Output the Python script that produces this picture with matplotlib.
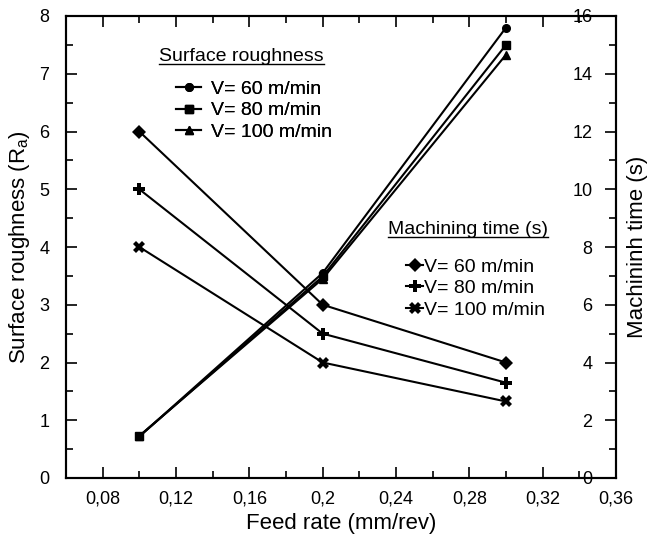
import matplotlib
matplotlib.use("Agg")
import matplotlib.pyplot as plt
from matplotlib.lines import Line2D
from matplotlib.ticker import MultipleLocator, FixedLocator
from matplotlib.transforms import IdentityTransform

plt.rcParams["font.family"] = ["Liberation Sans", "DejaVu Sans"]

# Data
feed = [0.1, 0.2, 0.3]
speeds = ["V= 60 m/min", "V= 80 m/min", "V= 100 m/min"]

# surface roughness Ra (left axis)
ra_60 = [0.72, 3.55, 7.80]
ra_80 = [0.72, 3.49, 7.50]
ra_100 = [0.73, 3.45, 7.33]

# machining time in s (right axis)
t_60 = [12.0, 6.0, 4.0]
t_80 = [10.0, 5.0, 3.3]
t_100 = [8.0, 4.0, 2.65]

xticks = [0.08, 0.12, 0.16, 0.2, 0.24, 0.28, 0.32, 0.36]
xticklabels = ["0,08", "0,12", "0,16", "0,2", "0,24", "0,28", "0,32", "0,36"]

fig = plt.figure(figsize=(6.55, 5.4), dpi=100)
ax = fig.add_axes([66/655, 62/540, 550/655, 462/540])
ax2 = ax.twinx()

lw = 1.5
ra_marks = ["o", "s", "^"]
t_marks = ["D", "P", "X"]
t_sizes = [7, 8.5, 8.5]

h1 = []
for y, m in zip([ra_60, ra_80, ra_100], ra_marks):
    line, = ax.plot(feed, y, color="black", lw=lw, marker=m, markersize=5.5)
    h1.append(line)

h2 = []
for y, m, ms in zip([t_60, t_80, t_100], t_marks, t_sizes):
    line, = ax2.plot(feed, y, color="black", lw=lw, marker=m, markersize=ms,
                     markeredgewidth=0)
    h2.append(line)

ax.set_xlim(0.06, 0.36)
ax.set_ylim(0, 8)
ax2.set_ylim(0, 16)

ax.xaxis.set_major_locator(FixedLocator(xticks))
ax.set_xticklabels(xticklabels)
ax.xaxis.set_minor_locator(MultipleLocator(0.02))
ax.yaxis.set_major_locator(MultipleLocator(1))
ax.yaxis.set_minor_locator(MultipleLocator(0.5))
ax2.yaxis.set_major_locator(MultipleLocator(2))
ax2.yaxis.set_minor_locator(MultipleLocator(1))

ax.tick_params(axis="x", which="both", direction="in", top=True, labelsize=13, pad=9)
ax.tick_params(axis="y", which="both", direction="in", labelsize=13, pad=12)
ax.tick_params(which="major", length=8, width=1.2)
ax.tick_params(which="minor", length=5, width=1.2)
ax2.tick_params(axis="y", which="both", direction="in", labelsize=13, pad=-17, width=1.2)
ax2.tick_params(axis="y", which="major", length=8)
ax2.tick_params(axis="y", which="minor", length=5)
for lab in ax2.get_yticklabels():
    lab.set_horizontalalignment("right")

for s in ax.spines.values():
    s.set_linewidth(1.5)
for s in ax2.spines.values():
    s.set_linewidth(1.5)

ax.set_xlabel("Feed rate (mm/rev)", fontsize=16, labelpad=4)
ax.set_ylabel("Surface roughness (R$_\\mathregular{a}$)", fontsize=16, labelpad=5)
ax2.set_ylabel("Machininh time (s)", fontsize=16, labelpad=8)

# legends
leg1 = ax.legend(h1, speeds, loc="upper left", bbox_to_anchor=(0.20, 0.86),
                 frameon=False, fontsize=14, handlelength=1.3, handletextpad=0.5,
                 labelspacing=0.18, borderpad=0, borderaxespad=0)
ax.add_artist(leg1)
leg2 = ax2.legend(h2, speeds, loc="upper left", bbox_to_anchor=(0.618, 0.476),
                  frameon=False, fontsize=14, handlelength=0.9, handletextpad=0.05,
                  labelspacing=0.2, borderpad=0, borderaxespad=0)

t1 = ax.text(0.169, 0.913, "Surface roughness", transform=ax.transAxes,
             fontsize=14, va="center", ha="left")
t2 = ax.text(0.585, 0.537, "Machining time (s)", transform=ax.transAxes,
             fontsize=14, va="center", ha="left")

fig.canvas.draw()
r = fig.canvas.get_renderer()
for t in (t1, t2):
    bb = t.get_window_extent(r)
    fig.add_artist(Line2D([bb.x0, bb.x1], [bb.y0 + 1, bb.y0 + 1], color="black",
                          lw=1.0, transform=IdentityTransform()))

fig.savefig("out.png", dpi=100)
